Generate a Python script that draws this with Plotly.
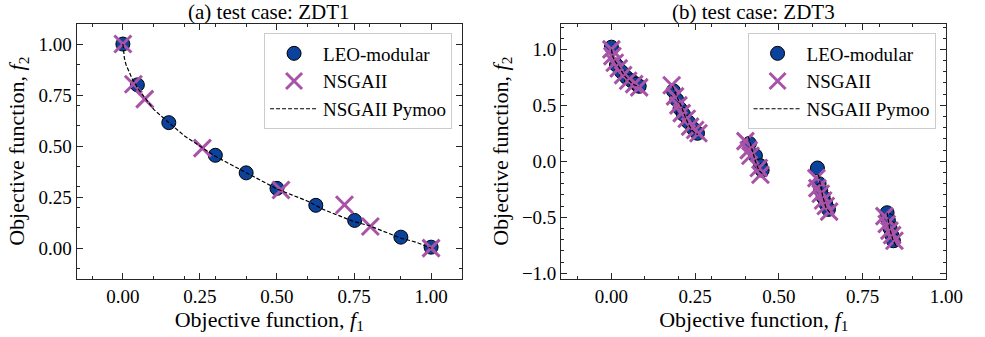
import plotly.graph_objects as go

# ---------------- ZDT1 ----------------
zdt1_leo_f1 = [0.000, 0.047, 0.149, 0.300, 0.400, 0.500, 0.626, 0.752, 0.902, 1.000]
zdt1_leo_f2 = [1.000, 0.800, 0.615, 0.455, 0.369, 0.293, 0.210, 0.136, 0.054, 0.005]

zdt1_nsga_f1 = [0.000, 0.034, 0.071, 0.258, 0.513, 0.719, 0.803, 1.000]
zdt1_nsga_f2 = [1.000, 0.803, 0.730, 0.490, 0.285, 0.213, 0.106, 0.000]

zdt1_pymoo_f1 = [0.0, 0.005, 0.01, 0.02, 0.03, 0.05, 0.07, 0.10, 0.13, 0.16, 0.20, 0.25, 0.30,
                 0.35, 0.40, 0.45, 0.50, 0.55, 0.60, 0.65, 0.70, 0.75, 0.80, 0.85, 0.90, 0.95, 1.0]
zdt1_pymoo_f2 = [1.0, 0.93, 0.90, 0.86, 0.83, 0.78, 0.74, 0.68, 0.64, 0.60, 0.55, 0.50, 0.45,
                 0.41, 0.37, 0.33, 0.29, 0.26, 0.23, 0.19, 0.16, 0.13, 0.11, 0.08, 0.05, 0.03, 0.0]

# ---------------- ZDT3 ----------------
zdt3_leo_f1 = [0.000, 0.015, 0.030, 0.045, 0.060, 0.075, 0.083,
               0.185, 0.195, 0.205, 0.215, 0.230, 0.245, 0.257,
               0.412, 0.430, 0.445, 0.450,
               0.615, 0.620, 0.625, 0.632, 0.640, 0.648,
               0.823, 0.827, 0.832, 0.837, 0.842]
zdt3_leo_f2 = [1.020, 0.860, 0.800, 0.750, 0.720, 0.690, 0.670,
               0.630, 0.550, 0.470, 0.420, 0.350, 0.290, 0.250,
               0.160, 0.050, -0.040, -0.080,
               -0.060, -0.200, -0.260, -0.320, -0.380, -0.430,
               -0.460, -0.530, -0.600, -0.660, -0.710]

zdt3_nsga_f1 = [0.000, 0.003, 0.010, 0.022, 0.035, 0.050, 0.068, 0.083,
                0.180, 0.190, 0.200, 0.210, 0.225, 0.235, 0.250, 0.260,
                0.400, 0.410, 0.415, 0.440, 0.445,
                0.612, 0.615, 0.625, 0.632, 0.640, 0.650,
                0.815, 0.822, 0.830, 0.838, 0.845]
zdt3_nsga_f2 = [1.000, 0.940, 0.880, 0.830, 0.770, 0.720, 0.690, 0.660,
                0.680, 0.580, 0.500, 0.430, 0.380, 0.310, 0.280, 0.250,
                0.180, 0.100, 0.050, -0.060, -0.120,
                -0.150, -0.240, -0.290, -0.350, -0.400, -0.450,
                -0.490, -0.560, -0.620, -0.660, -0.710]

zdt3_pymoo_f1 = [0.0, 0.005, 0.01, 0.02, 0.03, 0.04, 0.05, 0.06, 0.07, 0.083, None,
                 0.182, 0.19, 0.20, 0.21, 0.22, 0.23, 0.24, 0.25, 0.258, None,
                 0.409, 0.42, 0.43, 0.44, 0.454, None,
                 0.618, 0.625, 0.63, 0.64, 0.6525, None,
                 0.823, 0.83, 0.84, 0.852]
zdt3_pymoo_f2 = [1.0, 0.93, 0.90, 0.85, 0.80, 0.76, 0.73, 0.70, 0.68, 0.67, None,
                 0.67, 0.62, 0.55, 0.48, 0.40, 0.33, 0.28, 0.25, 0.24, None,
                 0.22, 0.10, 0.0, -0.08, -0.12, None,
                 -0.12, -0.23, -0.30, -0.41, -0.46, None,
                 -0.46, -0.59, -0.70, -0.77]

FONT = "Liberation Serif"
BLUE = "#0b429c"
PURPLE = "#a953a8"
AXIS_COLOR = "#262626"

fig = go.Figure()


def add_panel(f1_leo, f2_leo, f1_ns, f2_ns, f1_py, f2_py, xa, ya, leg):
    fig.add_trace(go.Scatter(
        x=f1_leo, y=f2_leo, mode="markers", name="LEO-modular",
        marker=dict(symbol="circle", size=14, color=BLUE,
                    line=dict(color="black", width=1)),
        xaxis=xa, yaxis=ya, legend=leg))
    fig.add_trace(go.Scatter(
        x=f1_ns, y=f2_ns, mode="markers", name="NSGAII",
        marker=dict(symbol="x-thin", size=17, color=PURPLE,
                    line=dict(color=PURPLE, width=3)),
        xaxis=xa, yaxis=ya, legend=leg))
    fig.add_trace(go.Scatter(
        x=f1_py, y=f2_py, mode="lines", name="NSGAII Pymoo",
        line=dict(color="black", width=1.2, dash="4px,2px"),
        connectgaps=False, xaxis=xa, yaxis=ya, legend=leg))


add_panel(zdt1_leo_f1, zdt1_leo_f2, zdt1_nsga_f1, zdt1_nsga_f2,
          zdt1_pymoo_f1, zdt1_pymoo_f2, "x", "y", "legend")
add_panel(zdt3_leo_f1, zdt3_leo_f2, zdt3_nsga_f1, zdt3_nsga_f2,
          zdt3_pymoo_f1, zdt3_pymoo_f2, "x2", "y2", "legend2")

W, H = 985, 337
left_dom = [78 / W, 470 / W]
right_dom = [571 / W, 963 / W]
y_dom = [1 - 283 / H, 1 - 24 / H]

common = dict(
    showline=True, linecolor=AXIS_COLOR, linewidth=1, mirror="allticks",
    ticks="inside", ticklen=6, tickwidth=1, tickcolor=AXIS_COLOR,
    showgrid=False, zeroline=False,
    tickfont=dict(family=FONT, size=19, color="black"),
    minor=dict(ticks="inside", ticklen=3, tickwidth=1, tickcolor=AXIS_COLOR,
               dtick=0.1, tick0=0, showgrid=False),
)

x_title = dict(text="Objective function, <i>f</i><sub>1</sub>",
               font=dict(family=FONT, size=22, color="black"), standoff=3)
y_title = dict(text="Objective function, <i>f</i><sub>2</sub>",
               font=dict(family=FONT, size=22, color="black"), standoff=7)

legend_common = dict(
    bgcolor="white", bordercolor="#cccccc", borderwidth=1,
    font=dict(family=FONT, size=19, color="black"),
    xanchor="right", yanchor="top", y=1 - 34 / H,
    itemsizing="trace", tracegroupgap=0, itemwidth=48,
)

fig.update_layout(
    width=W, height=H,
    margin=dict(l=0, r=0, t=0, b=0),
    paper_bgcolor="white", plot_bgcolor="white",
    font=dict(family=FONT, color="black"),
    xaxis=dict(domain=left_dom, range=[-0.15, 1.1], dtick=0.25, tick0=0,
               tickformat=".2f", title=x_title, anchor="y", **common),
    yaxis=dict(domain=y_dom, range=[-0.15, 1.1], dtick=0.25, tick0=0,
               tickformat=".2f", title=y_title, anchor="x", **common),
    xaxis2=dict(domain=right_dom, range=[-0.15, 1.0], dtick=0.25, tick0=0,
                tickformat=".2f", title=x_title, anchor="y2", **common),
    yaxis2=dict(domain=y_dom, range=[-1.05, 1.23], dtick=0.5, tick0=0,
                tickformat=".1f", title=y_title, anchor="x2", **common),
    legend=dict(x=460 / W, **legend_common),
    legend2=dict(x=952 / W, **legend_common),
    annotations=[
        dict(text="(a) test case: ZDT1", x=sum(left_dom) / 2, y=1 - 12 / H,
             xref="paper", yref="paper", showarrow=False,
             xanchor="center", yanchor="middle",
             font=dict(family=FONT, size=21, color="black")),
        dict(text="(b) test case: ZDT3", x=sum(right_dom) / 2, y=1 - 12 / H,
             xref="paper", yref="paper", showarrow=False,
             xanchor="center", yanchor="middle",
             font=dict(family=FONT, size=21, color="black")),
    ],
)

fig.write_html("out.html")
